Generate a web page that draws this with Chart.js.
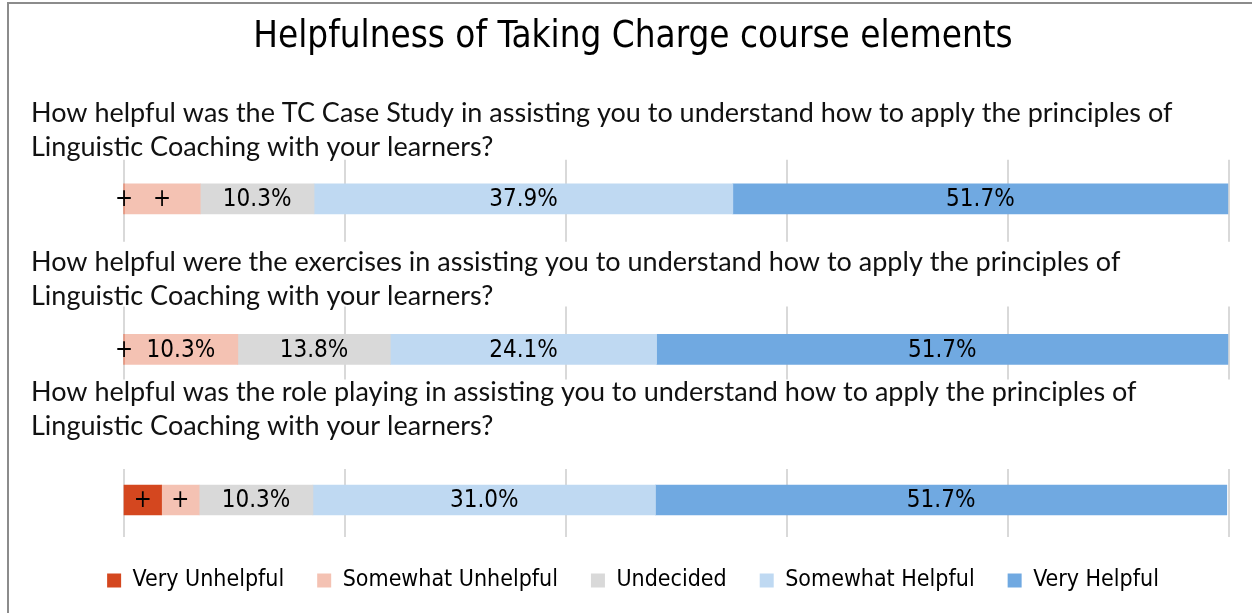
<!DOCTYPE html>
<html>
<head>
<meta charset="utf-8">
<script src="https://cdn.jsdelivr.net/npm/chart.js@4"></script>
<style>
  body { margin: 0; background: #fff; }
  #frame { position: absolute; left: 7px; top: 2px; width: 1300px; height: 700px; border: 2px solid #8c8c8c; }
  #wrap { position: absolute; left: 0; top: 0; width: 1252px; height: 613px; }
</style>
</head>
<body>
<div id="frame"></div>
<div id="wrap"><canvas id="myChart"></canvas></div>
<script>
const questions = [
    ['How helpful was the TC Case Study in assisting you to understand how to apply the principles of', 'Linguistic Coaching with your learners?'],
    ['How helpful were the exercises in assisting you to understand how to apply the principles of', 'Linguistic Coaching with your learners?'],
    ['How helpful was the role playing in assisting you to understand how to apply the principles of', 'Linguistic Coaching with your learners?']
];

const seriesNames = ['Very Unhelpful', 'Somewhat Unhelpful', 'Undecided', 'Somewhat Helpful', 'Very Helpful'];

const veryUnhelpful = [0, 0, 3.4];
const somewhatUnhelpful = [6.9, 10.3, 3.4];
const undecided = [10.3, 13.8, 10.3];
const somewhatHelpful = [37.9, 24.1, 31.0];
const veryHelpful = [44.8, 51.7, 51.7];

// text shown inside each segment
const veryUnhelpfulLabels = ['+', '+', '+'];
const somewhatUnhelpfulLabels = ['+', '10.3%', '+'];
const undecidedLabels = ['10.3%', '13.8%', '10.3%'];
const somewhatHelpfulLabels = ['37.9%', '24.1%', '31.0%'];
const veryHelpfulLabels = ['51.7%', '51.7%', '51.7%'];

const xTicks = [0, 20, 40, 60, 80, 100];

const colors = ['#d4471f', '#f4c2b3', '#d9d9d9', '#bfd9f2', '#70a9e1'];
const allValues = [veryUnhelpful, somewhatUnhelpful, undecided, somewhatHelpful, veryHelpful];
const allLabels = [veryUnhelpfulLabels, somewhatUnhelpfulLabels, undecidedLabels, somewhatHelpfulLabels, veryHelpfulLabels];

const textFont = '"DejaVu Sans Condensed", "Liberation Sans", sans-serif';
const questionFont = 'Lato, "Open Sans", sans-serif';

// gridline extent above / below each bar, and question text offset
const gridSpans = [[39, 43], [43, 30], [31, 37]];
const questionOffsets = [52, 53, 74];

const gridAndText = {
    id: 'gridAndText',
    beforeDatasetsDraw(chart) {
        const ctx = chart.ctx;
        const x = chart.scales.x, y = chart.scales.y;
        ctx.save();
        ctx.strokeStyle = '#d9d9d9';
        ctx.lineWidth = 2;
        questions.forEach((q, i) => {
            const yc = y.getPixelForValue(i);
            xTicks.forEach(v => {
                const px = x.getPixelForValue(v);
                ctx.beginPath();
                ctx.moveTo(px, yc - gridSpans[i][0]);
                ctx.lineTo(px, yc + gridSpans[i][1]);
                ctx.stroke();
            });
        });
        ctx.restore();
    },
    afterDatasetsDraw(chart) {
        const ctx = chart.ctx;
        const y = chart.scales.y;
        ctx.save();
        // values inside bars
        ctx.font = '24px ' + textFont;
        ctx.fillStyle = '#000';
        ctx.textAlign = 'center';
        ctx.textBaseline = 'middle';
        chart.data.datasets.forEach((ds, d) => {
            chart.getDatasetMeta(d).data.forEach((bar, i) => {
                ctx.fillText(allLabels[d][i], (bar.x + bar.base) / 2, bar.y + 1);
            });
        });
        // questions above bars
        ctx.font = '27px ' + questionFont;
        ctx.fillStyle = '#111';
        ctx.textAlign = 'left';
        questions.forEach((lines, i) => {
            const yc = y.getPixelForValue(i);
            lines.forEach((line, k) => {
                const ly = yc - questionOffsets[i] - (lines.length - 1 - k) * 34;
                ctx.fillText(line, 31, ly);
            });
        });
        ctx.restore();
    }
};

const data = {
    labels: questions,
    datasets: seriesNames.map((name, d) => ({
        label: name,
        data: allValues[d],
        backgroundColor: colors[d],
        borderWidth: 0,
        barThickness: 30,
        clip: false
    }))
};

const config = {
    type: 'bar',
    data: data,
    plugins: [gridAndText],
    options: {
        indexAxis: 'y',
        responsive: true,
        maintainAspectRatio: false,
        animation: false,
        layout: {
            padding: { left: 14, right: 0, top: 0, bottom: 11 }
        },
        scales: {
            x: {
                stacked: true,
                min: 0,
                max: 100,
                ticks: { display: false, stepSize: 20 },
                grid: { display: false },
                border: { display: false },
                afterFit: (scale) => { scale.height = 36; }
            },
            y: {
                stacked: true,
                offset: false,
                ticks: { display: false },
                grid: { display: false },
                border: { display: false },
                afterFit: (scale) => { scale.width = 110; }
            },
            yRight: {
                position: 'right',
                display: true,
                ticks: { display: false },
                grid: { display: false },
                border: { display: false },
                afterFit: (scale) => { scale.width = 23; }
            }
        },
        plugins: {
            title: {
                display: true,
                text: 'Helpfulness of Taking Charge course elements',
                color: '#000',
                font: { family: textFont, size: 36.5, weight: 'normal' },
                padding: { top: 16, bottom: 139 }
            },
            legend: {
                position: 'bottom',
                labels: {
                    color: '#000',
                    font: { family: textFont, size: 23 },
                    boxWidth: 14,
                    boxHeight: 14,
                    padding: 33
                }
            },
            tooltip: { enabled: false }
        }
    }
};

const myChart = new Chart(document.getElementById('myChart'), config);
</script>
</body>
</html>
